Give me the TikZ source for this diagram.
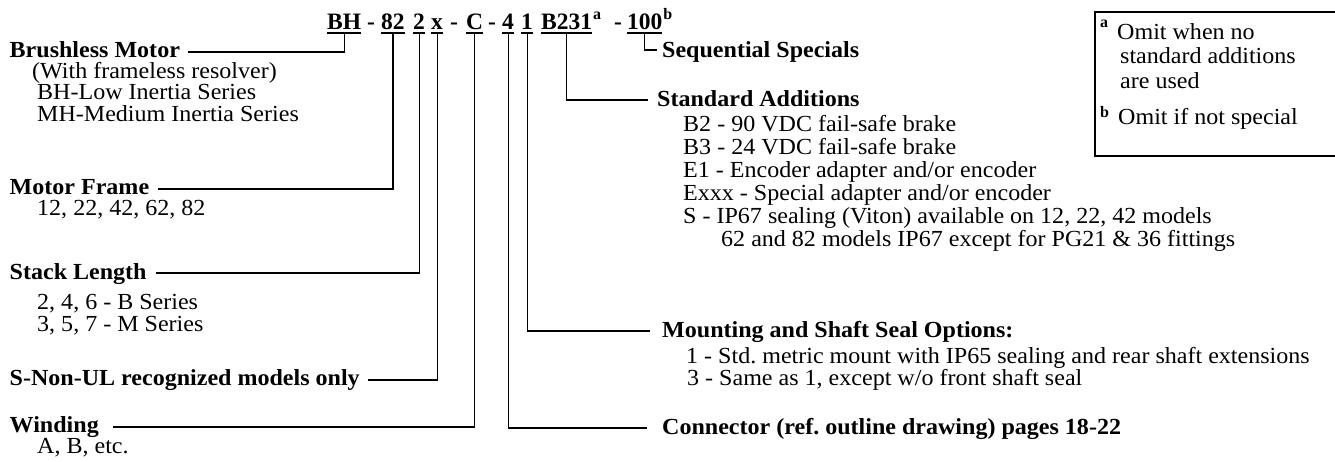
\documentclass[tikz,border=0pt]{standalone}
\usepackage{fontspec}
\setmainfont[FakeStretch=1.045]{Liberation Serif}
\newfontfamily\codefont{Liberation Serif}
\newcommand\ulpart[1]{\setbox0\hbox{#1}\rlap{\rule[-5pt]{\wd0}{2pt}}\box0}
\tikzset{
  conn/.style={draw, line width=1.1pt},
  lbl/.style={anchor=base west, inner sep=0pt, font=\fontsize{23}{23}\selectfont\bfseries},
  txt/.style={anchor=base west, inner sep=0pt, font=\fontsize{23}{23}\selectfont},
  code/.style={anchor=base west, inner sep=0pt, font=\codefont\fontsize{23.5}{23.5}\selectfont\bfseries},
  supmark/.style={anchor=base west, inner sep=0pt, font=\codefont\fontsize{16}{16}\selectfont\bfseries},
}
\begin{document}
\begin{tikzpicture}[x=1pt,y=-1pt]
\useasboundingbox (0,0) rectangle (1335,461);
% code line
\node[code] (bh) at (327,29) {\ulpart{BH}};
\node[code] (d1) at (367,29) {-};
\node[code] (f82) at (381,29) {\ulpart{82}};
\node[code] (s2) at (413,29) {\ulpart{2}};
\node[code] (sx) at (431,29) {\ulpart{x}};
\node[code] (d2) at (450,29) {-};
\node[code] (wc) at (466,29) {\ulpart{C}};
\node[code] (d3) at (488,29) {-};
\node[code] (c4) at (502,29) {\ulpart{4}};
\node[code] (m1) at (521,29) {\ulpart{1}};
\node[code] (b231) at (541,29) {\ulpart{B231}};
\node[supmark] (sa) at ([shift={(0.5,-10)}]b231.base east) {a};
\node[code] (d4) at (614,29) {-};
\node[code] (s100) at (627,29) {\ulpart{100}};
\node[supmark] (sb) at ([shift={(0.5,-10)}]s100.base east) {b};
% left labels
\node[lbl] (brush) at (9.5,57) {Brushless Motor};
\node[txt] (brush1) at (32,78) {(With frameless resolver)};
\node[txt] (brush2) at (37,99) {BH-Low Inertia Series};
\node[txt] (brush3) at (37,121) {MH-Medium Inertia Series};
\node[lbl] (frame) at (9.5,194) {Motor Frame};
\node[txt] (frame1) at (37,215) {12, 22, 42, 62, 82};
\node[lbl] (stack) at (9.5,279) {Stack Length};
\node[txt] (stack1) at (37,309) {2, 4, 6 - B Series};
\node[txt] (stack2) at (37,331) {3, 5, 7 - M Series};
\node[lbl] (snon) at (9.5,385) {S-Non-UL recognized models only};
\node[lbl] (wind) at (9.5,432) {Winding};
\node[txt] (wind1) at (37,453) {A, B, etc.};
% right labels
\node[lbl] (seq) at (662,57) {Sequential Specials};
\node[lbl] (std) at (657,106) {Standard Additions};
\node[txt] (std1) at (683,131) {B2 - 90 VDC fail-safe brake};
\node[txt] (std2) at (683,154) {B3 - 24 VDC fail-safe brake};
\node[txt] (std3) at (683,177) {E1 - Encoder adapter and/or encoder};
\node[txt] (std4) at (683,200) {Exxx - Special adapter and/or encoder};
\node[txt] (std5) at (683,223) {S - IP67 sealing (Viton) available on 12, 22, 42 models};
\node[txt] (std6) at (721,246) {62 and 82 models IP67 except for PG21 \& 36 fittings};
\node[lbl] (mount) at (662,337) {Mounting and Shaft Seal Options:};
\node[txt] (mount1) at (686,363) {1 - Std.\ metric mount with IP65 sealing and rear shaft extensions};
\node[txt] (mount2) at (687,385) {3 - Same as 1, except w/o front shaft seal};
\node[lbl] (conn) at (662,434) {Connector (ref.\ outline drawing) pages 18-22};
% connectors
\draw[conn] (bh.south) |- ([shift={(8,-5)}]brush.base east);
\draw[conn] (f82.south) |- ([shift={(9,-5)}]frame.base east);
\draw[conn] (s2.south) |- ([shift={(9,-6)}]stack.base east);
\draw[conn] (sx.south) |- ([shift={(8,-5)}]snon.base east);
\draw[conn] (wc.south) |- ([shift={(14,-5)}]wind.base east);
\draw[conn] (s100.south) |- ([shift={(-5,-7)}]seq.base west);
\draw[conn] (b231.south) |- ([shift={(-9,-6)}]std.base west);
\draw[conn] (m1.south) |- ([shift={(-12,-6)}]mount.base west);
\draw[conn] (c4.south) |- ([shift={(-15,-6)}]conn.base west);
% footnote box
\coordinate (boxtl) at (1095,12);
\coordinate (boxbl) at (1095,156);
\draw[line width=1.1pt] (1345,12) -- (boxtl) -- (boxbl) -- (1345,156);
\node[supmark] (na) at (1100,27) {a};
\node[txt] (na1) at (1117,39) {Omit when no};
\node[txt] (na2) at (1120,63) {standard additions};
\node[txt] (na3) at (1120,88) {are used};
\node[supmark] (nb) at (1100,117) {b};
\node[txt] (nb1) at (1118,124) {Omit if not special};
\end{tikzpicture}
\end{document}
